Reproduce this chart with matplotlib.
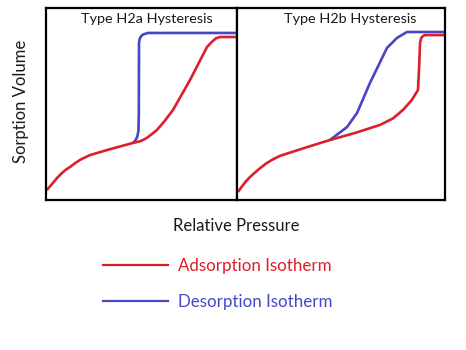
import matplotlib
matplotlib.use("Agg")
import matplotlib.pyplot as plt
from matplotlib.lines import Line2D

plt.rcParams['font.family'] = ['Lato', 'DejaVu Sans']

# Left panel: Type H2a
h2a_ads_x = [0.004, 0.02, 0.04, 0.06, 0.08, 0.10, 0.126, 0.15, 0.18, 0.23, 0.34, 0.455, 0.49, 0.508, 0.53, 0.55, 0.581, 0.62, 0.665, 0.754, 0.843, 0.87, 0.89, 0.911, 1.0]
h2a_ads_y = [0.052, 0.07, 0.093, 0.117, 0.137, 0.155, 0.172, 0.19, 0.21, 0.234, 0.266, 0.297, 0.305, 0.3125, 0.325, 0.34, 0.365, 0.41, 0.469, 0.625, 0.797, 0.825, 0.842, 0.849, 0.849]
h2a_des_x = [0.455, 0.468, 0.478, 0.484, 0.486, 0.487, 0.490, 0.497, 0.508, 0.534, 1.0]
h2a_des_y = [0.297, 0.31, 0.33, 0.36, 0.45, 0.818, 0.838, 0.852, 0.862, 0.870, 0.870]

# Right panel: Type H2b
h2b_ads_x = [0.005, 0.02, 0.04, 0.06, 0.08, 0.11, 0.14, 0.17, 0.207, 0.33, 0.447, 0.57, 0.6875, 0.75, 0.798, 0.84, 0.870, 0.876, 0.880, 0.886, 0.895, 0.904, 1.0]
h2b_ads_y = [0.042, 0.065, 0.093, 0.117, 0.137, 0.165, 0.19, 0.21, 0.23, 0.273, 0.3125, 0.35, 0.391, 0.425, 0.469, 0.52, 0.573, 0.70, 0.818, 0.845, 0.855, 0.859, 0.859]
h2b_des_x = [0.447, 0.529, 0.577, 0.639, 0.721, 0.769, 0.817, 1.0]
h2b_des_y = [0.3125, 0.380, 0.453, 0.609, 0.792, 0.844, 0.875, 0.875]

titles = ["Type H2a Hysteresis", "Type H2b Hysteresis"]
legend_labels = ["Adsorption Isotherm", "Desorption Isotherm"]
x_label = "Relative Pressure"
y_label = "Sorption Volume"

RED = "#dc1f2a"
BLUE = "#4646c6"

W, H = 466, 350
fig = plt.figure(figsize=(W / 100, H / 100), dpi=100)

def ax_rect(x0, y0, x1, y1):
    return [x0 / W, 1 - y1 / H, (x1 - x0) / W, (y1 - y0) / H]

ax1 = fig.add_axes(ax_rect(46, 8, 237, 200))
ax2 = fig.add_axes(ax_rect(237, 8, 445, 200))

panels = [
    (ax1, h2a_ads_x, h2a_ads_y, h2a_des_x, h2a_des_y, titles[0], 0.53),
    (ax2, h2b_ads_x, h2b_ads_y, h2b_des_x, h2b_des_y, titles[1], 0.545),
]
for ax, ax_x, ax_y, dx, dy, title, tx in panels:
    ax.plot(dx, dy, color=BLUE, lw=1.9, solid_joinstyle='round', solid_capstyle='butt')
    ax.plot(ax_x, ax_y, color=RED, lw=1.9, solid_joinstyle='round', solid_capstyle='butt')
    ax.set_xlim(0, 1)
    ax.set_ylim(0, 1)
    ax.set_xticks([])
    ax.set_yticks([])
    for s in ax.spines.values():
        s.set_linewidth(1.6)
        s.set_color("black")
    ax.text(tx, 0.945, title, transform=ax.transAxes, ha='center', va='center',
            fontsize=10.4, color="#1a1a1a")

fig.text(236 / W, 1 - 226 / H, x_label, ha='center', va='center', fontsize=12, color="#1a1a1a")
fig.text(21 / W, 1 - 101 / H, y_label, ha='center', va='center', rotation=90,
         fontsize=12, color="#1a1a1a")

# legend
for (y, col, lab) in [(265, RED, legend_labels[0]), (301, BLUE, legend_labels[1])]:
    fig.add_artist(Line2D([103 / W, 168 / W], [1 - y / H, 1 - y / H], color=col, lw=1.6,
                          transform=fig.transFigure))
    fig.text(178 / W, 1 - (y + 1) / H, lab, ha='left', va='center', fontsize=12.2, color=col)

fig.savefig("out.png", dpi=100)
